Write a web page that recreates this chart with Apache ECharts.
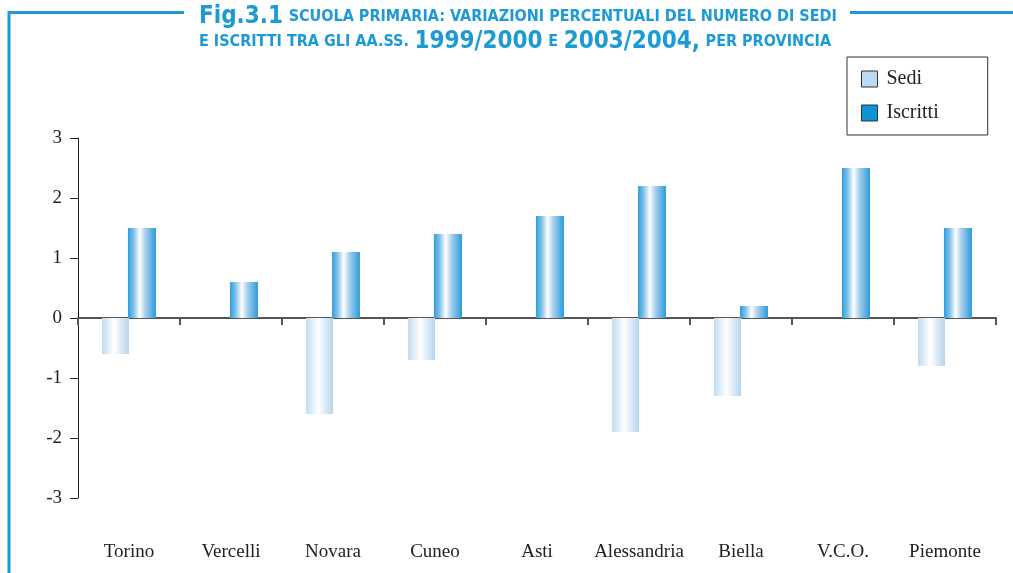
<!DOCTYPE html>
<html>
<head>
<meta charset="utf-8">
<script src="https://cdn.jsdelivr.net/npm/echarts@6/dist/echarts.min.js"></script>
<style>
  html, body { margin: 0; padding: 0; background: #fff; }
  #chart { width: 1013px; height: 573px; }
</style>
</head>
<body>
<div id="chart"></div>
<script>
const categories = ['Torino', 'Vercelli', 'Novara', 'Cuneo', 'Asti', 'Alessandria', 'Biella', 'V.C.O.', 'Piemonte'];
const sedi = [-0.6, 0, -1.6, -0.7, 0, -1.9, -1.3, 0, -0.8];
const iscritti = [1.5, 0.6, 1.1, 1.4, 1.7, 2.2, 0.2, 2.5, 1.5];
const yTicks = [-3, -2, -1, 0, 1, 2, 3];

const BLUE = '#1b9ad6';
const SERIF = '"Liberation Serif", "DejaVu Serif", serif';
const TITLE_FONT = '"DejaVu Sans Condensed", "Liberation Sans Narrow", sans-serif';

const chart = echarts.init(document.getElementById('chart'));

// barre con sfumatura orizzontale, come nell'originale
const sediFill = new echarts.graphic.LinearGradient(0, 0, 1, 0, [
  { offset: 0, color: '#c0dbf1' },
  { offset: 0.45, color: '#ffffff' },
  { offset: 1, color: '#b6d4ee' }
]);
const iscrittiFill = new echarts.graphic.LinearGradient(0, 0, 1, 0, [
  { offset: 0, color: '#2f9edb' },
  { offset: 0.2, color: '#7fc1e9' },
  { offset: 0.42, color: '#ffffff' },
  { offset: 0.62, color: '#a9cfed' },
  { offset: 1, color: '#2a9bdb' }
]);

chart.setOption({
  animation: false,
  backgroundColor: '#fff',
  title: {
    left: 199,
    top: 4,
    padding: 0,
    text: '{b|Fig.3.1} {s|SCUOLA PRIMARIA: VARIAZIONI PERCENTUALI DEL NUMERO DI SEDI}\n{s|E ISCRITTI TRA GLI AA.SS.} {b|1999/2000} {s|E} {b|2003/2004,} {s|PER PROVINCIA}',
    textStyle: {
      color: BLUE,
      fontFamily: TITLE_FONT,
      fontWeight: 'bold',
      lineHeight: 25,
      align: 'center',
      rich: {
        b: { fontSize: 24, fontWeight: 'bold', color: BLUE, fontFamily: TITLE_FONT, lineHeight: 25 },
        s: { fontSize: 16, fontWeight: 'bold', color: BLUE, fontFamily: TITLE_FONT, lineHeight: 25 }
      }
    }
  },
  graphic: [
    { type: 'line', shape: { x1: 8, y1: 12.5, x2: 184, y2: 12.5 }, style: { stroke: BLUE, lineWidth: 3 } },
    { type: 'line', shape: { x1: 850, y1: 12.5, x2: 1013, y2: 12.5 }, style: { stroke: BLUE, lineWidth: 3 } },
    { type: 'line', shape: { x1: 9, y1: 11, x2: 9, y2: 573 }, style: { stroke: BLUE, lineWidth: 3 } }
  ],
  legend: {
    orient: 'vertical',
    left: 847,
    top: 57,
    padding: [12, 49, 12, 14],
    itemGap: 14,
    itemWidth: 16,
    itemHeight: 16,
    backgroundColor: '#fff',
    borderColor: '#333',
    borderWidth: 1,
    textStyle: { fontFamily: SERIF, fontSize: 20, color: '#222', padding: [0, 0, 0, 4] },
    data: [
      { name: 'Sedi', icon: 'rect', itemStyle: { color: '#bcdaf2', borderColor: '#333', borderWidth: 1 } },
      { name: 'Iscritti', icon: 'rect', itemStyle: { color: '#0b95d6', borderColor: '#333', borderWidth: 1 } }
    ]
  },
  grid: { left: 78, right: 17, top: 138, bottom: 75 },
  xAxis: [
    {
      type: 'category',
      data: categories,
      axisLine: { onZero: true, lineStyle: { color: '#555', width: 2 } },
      axisTick: { show: true, length: 7, lineStyle: { color: '#555', width: 2 } },
      axisLabel: { show: false }
    },
    {
      type: 'category',
      data: categories,
      position: 'bottom',
      axisLine: { show: false },
      axisTick: { show: false },
      axisLabel: { interval: 0, margin: 45, fontFamily: SERIF, fontSize: 19, color: '#222' }
    }
  ],
  yAxis: {
    type: 'value',
    min: yTicks[0],
    max: yTicks[yTicks.length - 1],
    interval: 1,
    splitLine: { show: false },
    axisLine: { show: true, lineStyle: { color: '#222', width: 1 } },
    axisTick: { show: true, length: 8, lineStyle: { color: '#222' } },
    axisLabel: { margin: 16, fontFamily: SERIF, fontSize: 19, color: '#222' }
  },
  series: [
    {
      name: 'Sedi',
      type: 'bar',
      data: sedi,
      barWidth: 27,
      barGap: '-4%',
      itemStyle: { color: sediFill }
    },
    {
      name: 'Iscritti',
      type: 'bar',
      data: iscritti,
      barWidth: 28,
      itemStyle: { color: iscrittiFill }
    }
  ]
});
</script>
</body>
</html>
